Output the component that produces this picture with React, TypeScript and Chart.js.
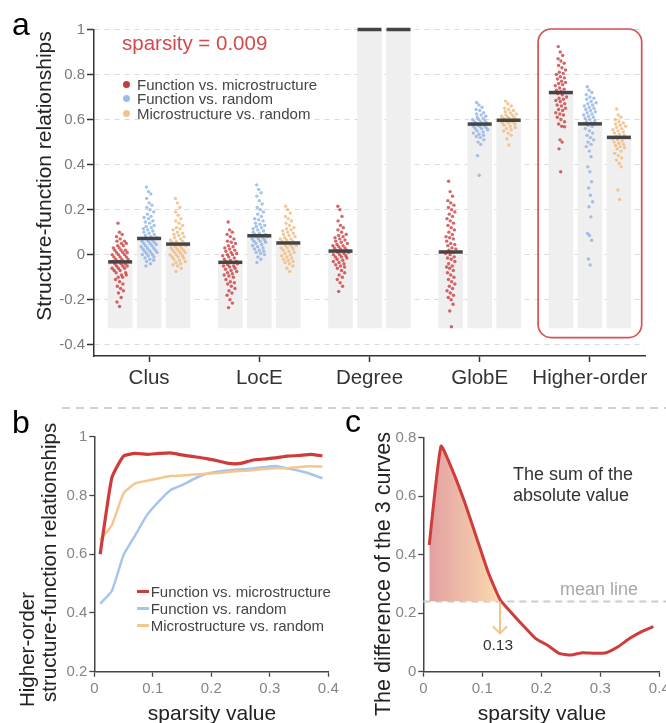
import React, { useEffect, useRef } from "react";
import { Chart, registerables } from "chart.js";
Chart.register(...registerables);

const FONT = '"Liberation Sans", Arial, Helvetica, sans-serif';

// ---------------- Panel a data ----------------
const categories = ["Clus", "LocE", "Degree", "GlobE", "Higher-order"];
const seriesNames = ["Function vs. microstructure", "Function vs. random", "Microstructure vs. random"];
const meanFuncMicro = [-0.032, -0.034, 0.016, 0.012, 0.72];
const meanFuncRandom = [0.072, 0.084, 1.0, 0.58, 0.581];
const meanMicroRandom = [0.047, 0.052, 1.0, 0.597, 0.521];
const barBase = -0.325;
const yTicksA = [-0.4, -0.2, 0, 0.2, 0.4, 0.6, 0.8, 1];

// individual subject values (in hundredths)
const clusFuncMicro = [14, 10, 9, 8, 7, 6, 6, 5, 5, 4, 4, 3, 3, 2, 2, 2, 1, 1, 1, 0, 0, 0, -1, -1, -1, -2, -2, -2, -3, -3, -3, -3, -4, -4, -4, -5, -5, -5, -6, -6, -6, -7, -7, -8, -8, -9, -9, -10, -10, -11, -12, -13, -14, -15, -16, -17, -19, -21, -23];
const clusFuncRandom = [30, 28, 27, 25, 23, 22, 21, 20, 19, 18, 17, 16.5, 16, 15, 14.5, 14, 13, 12.5, 12, 11.5, 11, 10.5, 10, 9.5, 9, 8.5, 8, 7.5, 7, 6.5, 6, 6, 5.5, 5, 5, 4.5, 4, 4, 3.5, 3, 3, 2.5, 2, 2, 1.5, 1, 1, 0.5, 0, 0, -0.5, -1, -1.5, -2, -2.5, -3, -4, -5];
const clusMicroRandom = [25, 23, 21, 19, 17.5, 16, 15, 14, 13, 12, 11.5, 11, 10, 9.5, 9, 8.5, 8, 7.5, 7, 6.5, 6, 6, 5.5, 5, 5, 4.5, 4, 4, 3.5, 3, 3, 2.5, 2, 2, 1.5, 1, 1, 0.5, 0, 0, -0.5, -1, -1, -1.5, -2, -2.5, -3, -3.5, -4, -4.5, -5, -6, -7.5];
const locEFuncMicro = [14.5, 11, 10, 9, 8, 7, 6, 5.5, 5, 4, 3.5, 3, 2.5, 2, 1.5, 1, 0.5, 0, 0, -0.5, -1, -1.5, -2, -2.5, -3, -3, -3.5, -4, -4.5, -5, -5, -5.5, -6, -6.5, -7, -7.5, -8, -8.5, -9, -9.5, -10, -11, -12, -12.5, -13, -14, -15, -16, -17, -18, -20, -21.5, -23.5];
const locEFuncRandom = [31, 29, 27.5, 26, 24, 22.5, 21, 20, 19, 18, 17, 16, 15.5, 15, 14, 13.5, 13, 12.5, 12, 11.5, 11, 10.5, 10, 9.5, 9, 9, 8.5, 8, 8, 7.5, 7, 7, 6.5, 6, 6, 5.5, 5, 4.5, 4, 3.5, 3, 2.5, 2, 1.5, 1, 0.5, 0, -1, -2, -3.5];
const locEMicroRandom = [21.5, 20, 18.5, 17, 16, 15, 14, 13, 12, 11.5, 11, 10.5, 10, 9.5, 9, 8.5, 8, 7.5, 7, 7, 6.5, 6, 6, 5.5, 5, 5, 4.5, 4, 4, 3.5, 3, 3, 2.5, 2, 1.5, 1, 0.5, 0, -0.5, -1, -1.5, -2, -2.5, -3, -3.5, -4, -5, -6, -7.5];
const degreeFuncMicro = [21.5, 20, 17, 15, 13, 12, 11, 10, 9, 8.5, 8, 7.5, 7, 6.5, 6, 5.5, 5, 4.5, 4, 4, 3.5, 3, 3, 2.5, 2, 2, 1.5, 1, 1, 0.5, 0, 0, -0.5, -1, -1, -1.5, -2, -2.5, -3, -3.5, -4, -4.5, -5, -5.5, -6, -7, -8, -9, -10, -11, -12.5, -14, -16.3];
const degreeFuncRandom = [100, 100, 100];
const degreeMicroRandom = [100, 100, 100];
const globEFuncMicro = [32.6, 28, 26, 24, 23, 22, 21, 20, 19, 18, 17, 16, 15, 14, 13, 12, 11, 10, 9, 8, 7.5, 7, 6, 5, 4.5, 4, 3, 2.5, 2, 1, 0.5, 0, -1, -1.5, -2, -3, -4, -5, -5.5, -6, -7, -8, -9, -10, -11, -12, -13, -14, -15, -16, -17, -18, -19, -20, -22, -25, -32];
const globEFuncRandom = [67.6, 66.5, 65.5, 64.5, 64, 63, 62.5, 62, 61.5, 61, 60.5, 60, 60, 59.5, 59, 59, 58.5, 58.5, 58, 58, 57.5, 57.5, 57, 57, 56.5, 56, 56, 55.5, 55, 54.5, 54, 53.5, 53, 52.5, 52, 51, 50, 49, 44, 35.3];
const globEMicroRandom = [68.2, 67, 66, 65, 64.5, 64, 63.5, 63, 62.5, 62, 62, 61.5, 61, 61, 60.5, 60.5, 60, 60, 59.5, 59.5, 59, 59, 58.5, 58.5, 58, 57.5, 57, 56.5, 56, 55.5, 55, 54, 53, 51.5, 48.7];
const higherFuncMicro = [92.4, 90, 88.5, 87, 86, 85, 84, 83, 82, 81, 80.5, 80, 79, 78.5, 78, 77, 76.5, 76, 75.5, 75, 74, 73.5, 73, 72.5, 72, 71.5, 71, 70, 69.5, 69, 68.5, 68, 67, 66.5, 66, 65, 64.5, 64, 63, 62.5, 62, 61, 60, 59, 58, 57, 56.8, 51, 50, 47, 36.8];
const higherFuncRandom = [74.6, 73, 72, 71, 70, 69.5, 69, 68, 67.5, 67, 66.5, 66, 65.5, 65, 64.5, 64, 63.5, 63, 62.5, 62, 61.5, 61, 60.5, 60, 59.5, 59, 58.5, 58, 57.5, 57, 56, 55, 54, 53, 52, 51, 50, 49, 48, 46, 43.5, 39, 36.8, 32.4, 29.6, 26.4, 23.5, 21.3, 16.8, 9.4, 8.5, 6.4, -1.9, -4.6];
const higherMicroRandom = [64.7, 62, 61, 60, 59, 58.5, 58, 57.5, 57, 56.5, 56, 55.5, 55, 54.5, 54, 53.5, 53, 52.5, 52, 51.5, 51, 50.5, 50, 49.5, 49, 48.5, 48, 47.5, 47, 46, 45, 44, 43, 42, 40.5, 39, 28.7, 24.5];

const samplesFuncMicro = [clusFuncMicro, locEFuncMicro, degreeFuncMicro, globEFuncMicro, higherFuncMicro];
const samplesFuncRandom = [clusFuncRandom, locEFuncRandom, degreeFuncRandom, globEFuncRandom, higherFuncRandom];
const samplesMicroRandom = [clusMicroRandom, locEMicroRandom, degreeMicroRandom, globEMicroRandom, higherMicroRandom];

// ---------------- Panel b data ----------------
const sparsity = [0.01, 0.03, 0.05, 0.07, 0.09, 0.11, 0.13, 0.15, 0.17, 0.19, 0.21, 0.23, 0.25, 0.27, 0.29, 0.31, 0.33, 0.35, 0.37, 0.39];
const hoFuncMicro = [0.6, 0.861, 0.934, 0.943, 0.94, 0.943, 0.945, 0.938, 0.932, 0.926, 0.918, 0.909, 0.909, 0.92, 0.924, 0.928, 0.934, 0.936, 0.94, 0.935];
const hoFuncRandom = [0.432, 0.475, 0.597, 0.665, 0.733, 0.779, 0.818, 0.835, 0.856, 0.873, 0.881, 0.886, 0.889, 0.892, 0.896, 0.9, 0.892, 0.884, 0.873, 0.858];
const hoMicroRandom = [0.648, 0.699, 0.807, 0.841, 0.85, 0.858, 0.866, 0.868, 0.871, 0.874, 0.876, 0.881, 0.883, 0.886, 0.89, 0.893, 0.893, 0.897, 0.899, 0.898];
const yTicksB = [0.2, 0.4, 0.6, 0.8, 1];
const xTicksBC = [0, 0.1, 0.2, 0.3, 0.4];

// ---------------- Panel c data ----------------
const diffSum = [0.433, 0.771, 0.686, 0.58, 0.46, 0.34, 0.247, 0.2, 0.156, 0.114, 0.091, 0.063, 0.057, 0.065, 0.063, 0.065, 0.085, 0.114, 0.137, 0.154];
const meanLineValue = 0.24;
const crossingSparsity = 0.13;
const arrowEndValue = 0.131;
const yTicksC = [0, 0.2, 0.4, 0.6, 0.8];

// ---------------- styles ----------------
const RED = "#cf3b3b";
const BLUE = "#a6c5ee";
const ORANGE = "#f5c68d";
const pointColors = ["rgba(200,50,52,0.75)", "rgba(130,170,226,0.72)", "rgba(240,183,120,0.78)"];
const legendDot = ["#c8393b", "#9bbde9", "#f4c38f"];
const SLOT = 0.263;

const fmt = (v: number) => {
  const r = Math.round(v * 10) / 10;
  return r === 0 ? "0" : String(r);
};

function cloud(groups: number[][], k: number) {
  const pts: { x: number; y: number }[] = [];
  groups.forEach((vals, i) => {
    const ys = vals.map((v) => v / 100);
    ys.forEach((y, j) => {
      const nb = ys.filter((o) => Math.abs(o - y) < 0.025).length;
      const w = Math.min(1.45, 0.3 + nb / 11) * 0.05;
      const u = ((j * 7) % 19) / 9 - 1;
      pts.push({ x: i + (k - 1) * SLOT + u * w, y });
    });
  });
  return pts;
}

const highlightPlugin = {
  id: "highlight",
  afterDatasetsDraw(chart: any) {
    const { ctx, scales } = chart;
    const x = scales.x;
    const y = scales.y;
    const l = x.getPixelForValue(4 - 0.47);
    const r = x.getPixelForValue(4 + 0.47);
    const t = y.getPixelForValue(1.0) - 0.5;
    const b = y.getPixelForValue(-0.368);
    ctx.save();
    ctx.strokeStyle = "#d45353";
    ctx.lineWidth = 1.7;
    ctx.beginPath();
    ctx.roundRect(l, t, r - l, b - t, 13);
    ctx.stroke();
    ctx.restore();
  },
};

const noPadX = (h: number) => (s: any) => {
  s.height = h;
  s.paddingLeft = 0;
  s.paddingRight = 0;
};
const noPadY = (w: number) => (s: any) => {
  s.width = w;
  s.paddingTop = 0;
  s.paddingBottom = 0;
};

function configA(): any {
  const meansAll = [meanFuncMicro, meanFuncRandom, meanMicroRandom];
  const samplesAll = [samplesFuncMicro, samplesFuncRandom, samplesMicroRandom];
  const datasets: any[] = [];
  meansAll.forEach((m, k) =>
    datasets.push({
      type: "bar",
      label: seriesNames[k],
      data: m.map((v, i) => ({ x: i + (k - 1) * SLOT, y: [barBase, v] })),
      backgroundColor: "#efefef",
      borderWidth: 0,
      barThickness: 24,
      grouped: false,
      order: 3,
    })
  );
  samplesAll.forEach((s, k) =>
    datasets.push({
      type: "scatter",
      data: cloud(s, k),
      pointRadius: 1.7,
      pointBackgroundColor: pointColors[k],
      backgroundColor: pointColors[k],
      pointBorderWidth: 0,
      borderWidth: 0,
      order: 2,
    })
  );
  meansAll.forEach((m, k) =>
    datasets.push({
      type: "scatter",
      data: m.map((v, i) => ({ x: i + (k - 1) * SLOT, y: v })),
      pointStyle: "line",
      pointRadius: 12,
      pointBorderWidth: 3.5,
      pointBorderColor: "#454545",
      borderColor: "#454545",
      clip: false,
      order: 1,
    })
  );
  return {
    type: "bar",
    data: { datasets },
    options: {
      responsive: false,
      animation: false,
      events: [],
      layout: { padding: { top: 29.5, right: 21, left: 0, bottom: 0 }, autoPadding: false },
      plugins: { legend: { display: false }, tooltip: { enabled: false } },
      scales: {
        x: {
          type: "linear",
          min: -0.5,
          max: 4.5,
          offset: false,
          afterBuildTicks: (s: any) => {
            s.ticks = categories.map((_, i) => ({ value: i }));
          },
          grid: { offset: false, drawOnChartArea: false, drawTicks: true, tickLength: 6, tickColor: "#333", tickWidth: 1.5 },
          border: { color: "#333", width: 1.5 },
          ticks: {
            color: "#333",
            font: { family: FONT, size: 20.5 },
            padding: 4,
            maxRotation: 0,
            autoSkip: false,
            callback: (v: any) => categories[Math.round(v)] ?? "",
          },
          afterFit: noPadX(44),
        },
        y: {
          type: "linear",
          min: -0.45,
          max: 1,
          afterBuildTicks: (s: any) => {
            s.ticks = yTicksA.map((v) => ({ value: v }));
          },
          ticks: { color: "#7a7a7a", font: { family: FONT, size: 15 }, padding: 2, callback: (v: any) => fmt(v) },
          grid: { color: "#dadada", lineWidth: 1, drawTicks: true, tickLength: 7, tickColor: "#333", tickWidth: 1.5 },
          border: { color: "#333", width: 1.5, dash: [5, 5] },
          afterFit: noPadY(94),
        },
      },
    },
    plugins: [highlightPlugin],
  };
}

function lineAxes(yMin: number, yMax: number, yTicks: number[], yWidth: number, xHeight: number) {
  return {
    x: {
      type: "linear",
      min: 0,
      max: 0.4,
      afterBuildTicks: (s: any) => {
        s.ticks = xTicksBC.map((v) => ({ value: v }));
      },
      grid: { drawOnChartArea: false, drawTicks: true, tickLength: 5, tickColor: "#444", tickWidth: 1.3 },
      border: { color: "#444", width: 1.5 },
      ticks: { color: "#858585", font: { family: FONT, size: 15 }, padding: 3, maxRotation: 0, callback: (v: any) => fmt(v) },
      afterFit: noPadX(xHeight),
    },
    y: {
      type: "linear",
      min: yMin,
      max: yMax,
      afterBuildTicks: (s: any) => {
        s.ticks = yTicks.map((v) => ({ value: v }));
      },
      grid: { drawOnChartArea: false, drawTicks: true, tickLength: 5, tickColor: "#444", tickWidth: 1.3 },
      border: { color: "#444", width: 1.5 },
      ticks: { color: "#858585", font: { family: FONT, size: 15 }, padding: 2, callback: (v: any) => fmt(v) },
      afterFit: noPadY(yWidth),
    },
  };
}

function configB(): any {
  const mk = (vals: number[], label: string, color: string, width: number, order: number) => ({
    label,
    data: sparsity.map((s, i) => ({ x: s, y: vals[i] })),
    borderColor: color,
    borderWidth: width,
    pointRadius: 0,
    tension: 0.15,
    fill: false,
    order,
  });
  return {
    type: "line",
    data: {
      datasets: [
        mk(hoFuncMicro, seriesNames[0], RED, 3.2, 1),
        mk(hoFuncRandom, seriesNames[1], BLUE, 2.5, 3),
        mk(hoMicroRandom, seriesNames[2], ORANGE, 2.5, 2),
      ],
    },
    options: {
      responsive: false,
      animation: false,
      events: [],
      layout: { padding: { top: 36.7, right: 11.7, left: 0, bottom: 0 }, autoPadding: false },
      plugins: { legend: { display: false }, tooltip: { enabled: false } },
      scales: lineAxes(0.2, 1, yTicksB, 94.3, 51.3),
    },
  };
}

const meanLinePlugin = {
  id: "meanLine",
  beforeDatasetsDraw(chart: any) {
    const { ctx, scales, chartArea, width } = chart;
    const y = scales.y.getPixelForValue(meanLineValue);
    ctx.save();
    ctx.strokeStyle = "#c9c9c9";
    ctx.lineWidth = 2;
    ctx.setLineDash([7, 5]);
    ctx.beginPath();
    ctx.moveTo(chartArea.left, y);
    ctx.lineTo(width, y);
    ctx.stroke();
    ctx.restore();
  },
  afterDatasetsDraw(chart: any) {
    const { ctx, scales } = chart;
    const x = scales.x.getPixelForValue(crossingSparsity);
    const y0 = scales.y.getPixelForValue(meanLineValue);
    const y1 = scales.y.getPixelForValue(arrowEndValue);
    ctx.save();
    ctx.strokeStyle = "#f3c38c";
    ctx.lineWidth = 2;
    ctx.beginPath();
    ctx.moveTo(x, y0);
    ctx.lineTo(x, y1);
    ctx.moveTo(x - 7, y1 - 7);
    ctx.lineTo(x, y1);
    ctx.lineTo(x + 7, y1 - 7);
    ctx.stroke();
    ctx.restore();
  },
};

function configC(): any {
  return {
    type: "line",
    data: {
      datasets: [
        {
          label: "difference",
          data: sparsity.map((s, i) => ({ x: s, y: diffSum[i] })),
          borderColor: "#cf3c3c",
          borderWidth: 3,
          pointRadius: 0,
          tension: 0.15,
          fill: { target: { value: meanLineValue }, below: "rgba(0,0,0,0)" },
          backgroundColor: (c: any) => {
            const chart = c.chart;
            if (!chart.chartArea || !chart.scales.x) return "rgba(0,0,0,0)";
            const xs = chart.scales.x;
            const g = chart.ctx.createLinearGradient(xs.getPixelForValue(sparsity[0]), 0, xs.getPixelForValue(crossingSparsity), 0);
            g.addColorStop(0, "#e2a0a1");
            g.addColorStop(1, "#fbdaaf");
            return g;
          },
        },
      ],
    },
    options: {
      responsive: false,
      animation: false,
      events: [],
      layout: { padding: { top: 37.7, right: 6.7, left: 0, bottom: 0 }, autoPadding: false },
      plugins: { legend: { display: false }, tooltip: { enabled: false } },
      scales: lineAxes(0, 0.8, yTicksC, 83.3, 51.3),
    },
    plugins: [meanLinePlugin],
  };
}

function ChartCanvas({ config, left, top, width, height }: any) {
  const ref = useRef<HTMLCanvasElement>(null);
  useEffect(() => {
    const chart = new Chart(ref.current as HTMLCanvasElement, config());
    return () => chart.destroy();
  }, []);
  return <canvas ref={ref} width={width} height={height} style={{ position: "absolute", left, top, width, height }} />;
}

function T({ x, y, size, color = "#333", align = "left", children }: any) {
  const style: any = {
    position: "absolute",
    left: x,
    top: y - 0.8465 * size,
    fontSize: size,
    lineHeight: `${size}px`,
    fontFamily: FONT,
    color,
    whiteSpace: "nowrap",
  };
  if (align === "center") style.transform = "translateX(-50%)";
  return <div style={style}>{children}</div>;
}

function VT({ x, y, size, color = "#222", align = "center", children }: any) {
  const style: any = {
    position: "absolute",
    left: x - 0.8465 * size,
    top: y,
    fontSize: size,
    lineHeight: `${size}px`,
    fontFamily: FONT,
    color,
    whiteSpace: "nowrap",
    transformOrigin: "0 0",
    transform: align === "center" ? "rotate(-90deg) translateX(-50%)" : "rotate(-90deg)",
  };
  return <div style={style}>{children}</div>;
}

export default function App() {
  const legendA = [89.5, 104, 118.5];
  const legendB = [596.7, 613.5, 630.7];
  return (
    <div style={{ position: "absolute", left: 0, top: 0, width: 666, height: 723, background: "#fff", overflow: "hidden", fontFamily: FONT }}>
      <ChartCanvas config={configA} left={0} top={0} width={666} height={400} />
      <ChartCanvas config={configB} left={0} top={400} width={340} height={323} />
      <ChartCanvas config={configC} left={340} top={400} width={326} height={323} />

      {/* divider */}
      <div style={{ position: "absolute", left: 62, top: 407, width: 604, height: 2, background: "repeating-linear-gradient(to right, #d2d2d2 0 8px, transparent 8px 14px)" }} />

      {/* panel letters */}
      <T x={12} y={35} size={32} color="#000">a</T>
      <T x={12} y={433} size={32} color="#000">b</T>
      <T x={345} y={432} size={32} color="#000">c</T>

      {/* panel a texts */}
      <VT x={51} y={176} size={21}>Structure-function relationships</VT>
      <T x={122} y={50} size={20.5} color="#d4494b">sparsity = 0.009</T>
      {seriesNames.map((n, i) => (
        <React.Fragment key={n}>
          <div style={{ position: "absolute", left: 122.5, top: legendA[i] - 5.5 - 3.5, width: 7, height: 7, borderRadius: "50%", background: legendDot[i] }} />
          <T x={137} y={legendA[i]} size={15} color="#444">{n}</T>
        </React.Fragment>
      ))}

      {/* panel b texts */}
      <VT x={34.5} y={707} size={20.5} align="start">Higher-order</VT>
      <VT x={56} y={702} size={20.5} align="start">structure-function relationships</VT>
      <T x={212} y={720} size={21} color="#222" align="center">sparsity value</T>
      {seriesNames.map((n, i) => (
        <React.Fragment key={n}>
          <div style={{ position: "absolute", left: 137, top: legendB[i] - 5.5 - 1.5, width: 12, height: 3, background: [RED, BLUE, ORANGE][i] }} />
          <T x={150.7} y={legendB[i]} size={15} color="#444">{n}</T>
        </React.Fragment>
      ))}

      {/* panel c texts */}
      <VT x={391} y={574} size={21.5}>The difference of the 3 curves</VT>
      <T x={542} y={720} size={21} color="#222" align="center">sparsity value</T>
      <T x={513} y={480} size={18} color="#333">The sum of the</T>
      <T x={513} y={501.5} size={18} color="#333">absolute value</T>
      <T x={560} y={595} size={18} color="#a8a8a8">mean line</T>
      <T x={498} y={650} size={15.5} color="#333" align="center">0.13</T>
    </div>
  );
}
